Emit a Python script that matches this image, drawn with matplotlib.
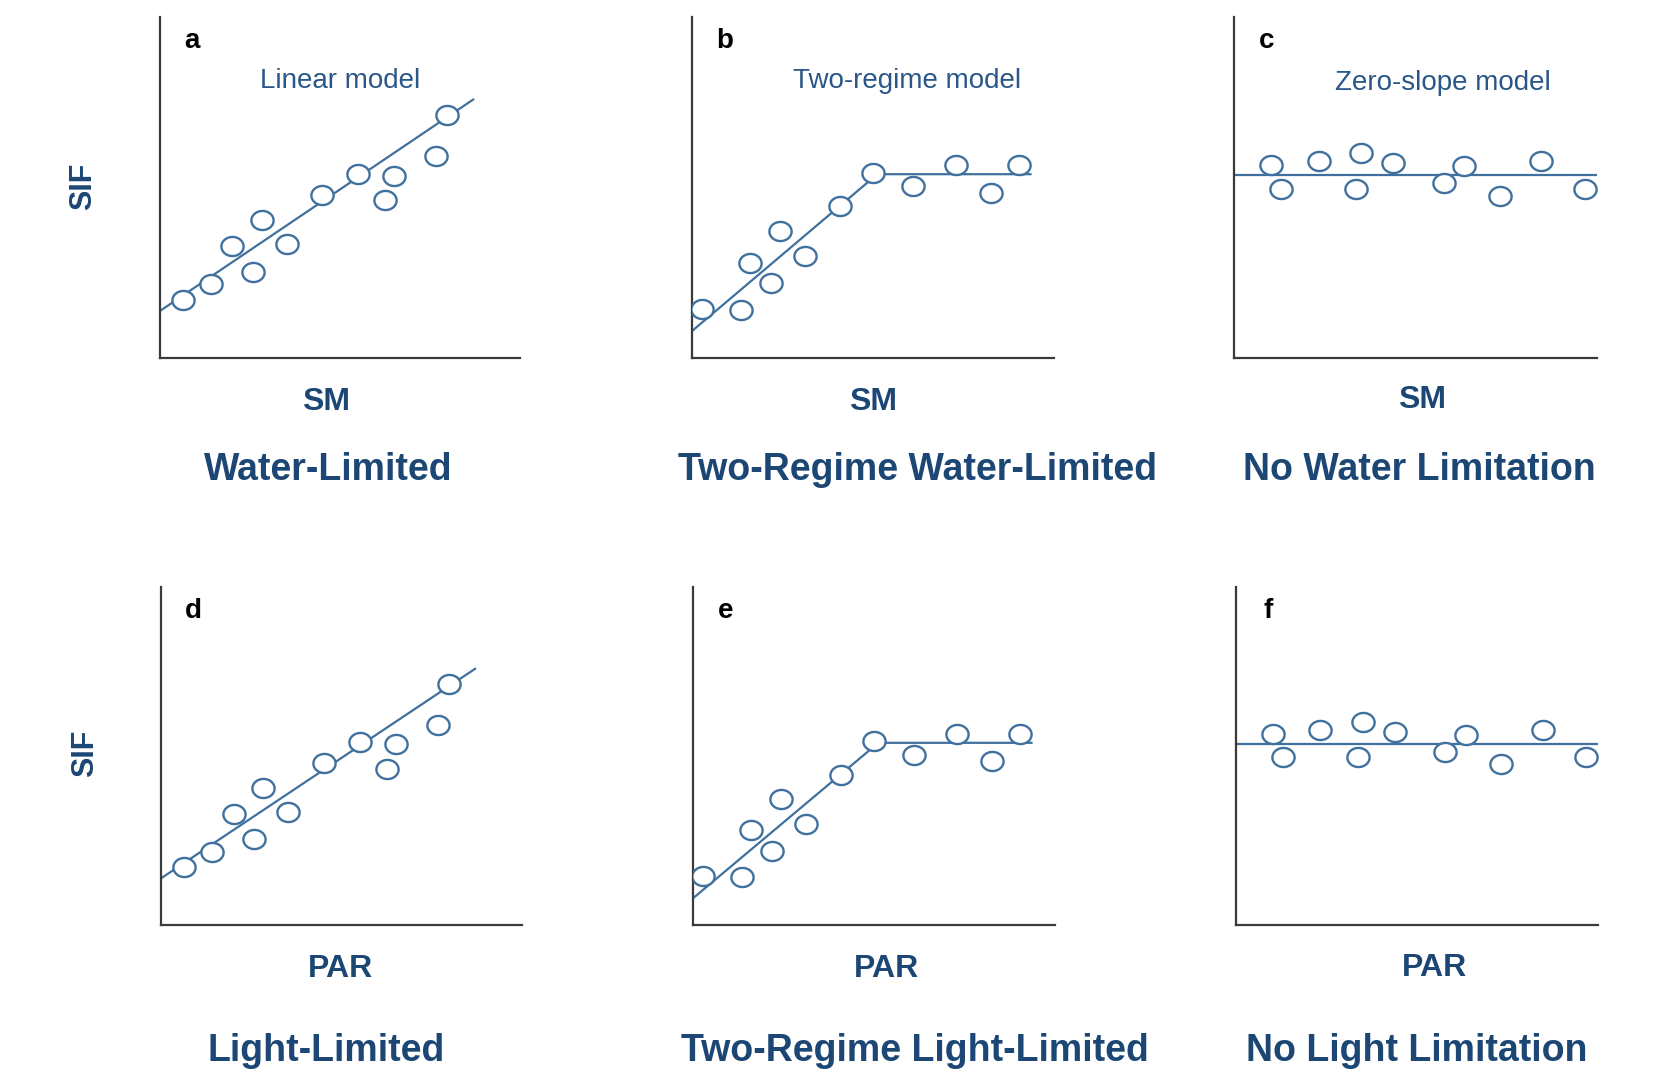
import numpy as np
import matplotlib
matplotlib.use("Agg")
import matplotlib.pyplot as plt
from matplotlib.path import Path

plt.rcParams['font.family'] = ['Liberation Sans', 'DejaVu Sans']

# ---- data (schematic; axes run 0..10 in both directions) ----
lin_x = [0.63, 1.42, 2.01, 2.57, 2.82, 3.52, 4.51, 5.51, 6.25, 6.51, 7.67, 7.98]
lin_y = [1.71, 2.16, 3.27, 2.53, 4.06, 3.33, 4.79, 5.40, 4.62, 5.35, 5.93, 7.12]
lin_fit_x = [0.0, 8.70]
lin_fit_y = [1.38, 7.58]

two_x = [0.28, 1.35, 1.61, 2.17, 2.44, 3.13, 4.10, 5.00, 6.11, 7.28, 8.25, 9.03]
two_y = [1.45, 1.42, 2.80, 2.20, 3.72, 2.99, 4.45, 5.43, 5.03, 5.65, 4.85, 5.65]
two_fit_x = [0.0, 5.12, 9.35]
two_fit_y = [0.79, 5.39, 5.39]

zero_x = [1.01, 1.30, 2.33, 3.37, 3.51, 4.38, 5.78, 6.34, 7.32, 8.47, 9.67]
zero_y = [5.65, 4.97, 5.77, 4.97, 6.02, 5.72, 5.13, 5.63, 4.75, 5.77, 4.97]
zero_fit_x = [0.0, 10.0]
zero_fit_y = [5.36, 5.36]

panel_letters = ['a', 'b', 'c', 'd', 'e', 'f']
model_names = ['Linear model', 'Two-regime model', 'Zero-slope model']
x_labels = ['SM', 'SM', 'SM', 'PAR', 'PAR', 'PAR']
titles = ['Water-Limited', 'Two-Regime Water-Limited', 'No Water Limitation',
          'Light-Limited', 'Two-Regime Light-Limited', 'No Light Limitation']

series = [(lin_x, lin_y, lin_fit_x, lin_fit_y),
          (two_x, two_y, two_fit_x, two_fit_y),
          (zero_x, zero_y, zero_fit_x, zero_fit_y)]

navy = '#1c4775'
text_blue = '#2a5787'
blue = '#40709d'
spine_col = '#3a3a3a'

# slightly flattened circle marker
t = np.linspace(0, 2 * np.pi, 60)
ellipse = Path(np.column_stack([np.cos(t), 0.86 * np.sin(t)]), closed=True)

W, H = 1664, 1083
fig = plt.figure(figsize=(W / 100, H / 100), dpi=100)

# axes boxes in pixels: left, right, top, bottom
boxes = [(160, 520, 17, 358), (692, 1054, 17, 358), (1234, 1597, 17, 358),
         (161, 522, 587, 925), (693, 1055, 587, 925), (1236, 1598, 587, 925)]

xlab_pos = [(326, 402), (873, 402), (1422, 400), (340, 969), (886, 969), (1435, 968)]
title_pos = [(328, 470), (918, 470), (1419, 470), (326, 1051), (915, 1051), (1417, 1051)]
model_pos = [(340, 81), (907, 81), (1443, 83)]

for i in range(6):
    l, r, tp, b = boxes[i]
    ax = fig.add_axes([l / W, 1 - b / H, (r - l) / W, (b - tp) / H])
    xs, ys, fx, fy = series[i % 3]
    ax.plot(fx, fy, color=blue, lw=1.6, zorder=2)
    ax.plot(xs, ys, linestyle='none', marker=ellipse, markersize=16,
            markerfacecolor='white', markeredgecolor=blue, markeredgewidth=1.7, zorder=3)
    ax.set_xlim(0, 10)
    ax.set_ylim(0, 10)
    ax.set_xticks([])
    ax.set_yticks([])
    for s in ['top', 'right']:
        ax.spines[s].set_visible(False)
    for s in ['left', 'bottom']:
        ax.spines[s].set_color(spine_col)
        ax.spines[s].set_linewidth(1.6)
    ax.text(0.09, 0.93, panel_letters[i], transform=ax.transAxes, fontsize=20,
            fontweight='bold', color='black', ha='center', va='center')

    fig.text(xlab_pos[i][0] / W, 1 - xlab_pos[i][1] / H, x_labels[i], fontsize=23,
             fontweight='bold', color=navy, ha='center', va='center')
    fig.text(title_pos[i][0] / W, 1 - title_pos[i][1] / H, titles[i], fontsize=27,
             fontweight='bold', color=navy, ha='center', va='center')

for j in range(3):
    fig.text(model_pos[j][0] / W, 1 - model_pos[j][1] / H, model_names[j], fontsize=20,
             color=text_blue, ha='center', va='center')

fig.text(83 / W, 1 - 186 / H, 'SIF', fontsize=22, fontweight='bold', color=navy,
         rotation=90, ha='center', va='center')
fig.text(85 / W, 1 - 753 / H, 'SIF', fontsize=22, fontweight='bold', color=navy,
         rotation=90, ha='center', va='center')

fig.savefig('out.png', dpi=100)
